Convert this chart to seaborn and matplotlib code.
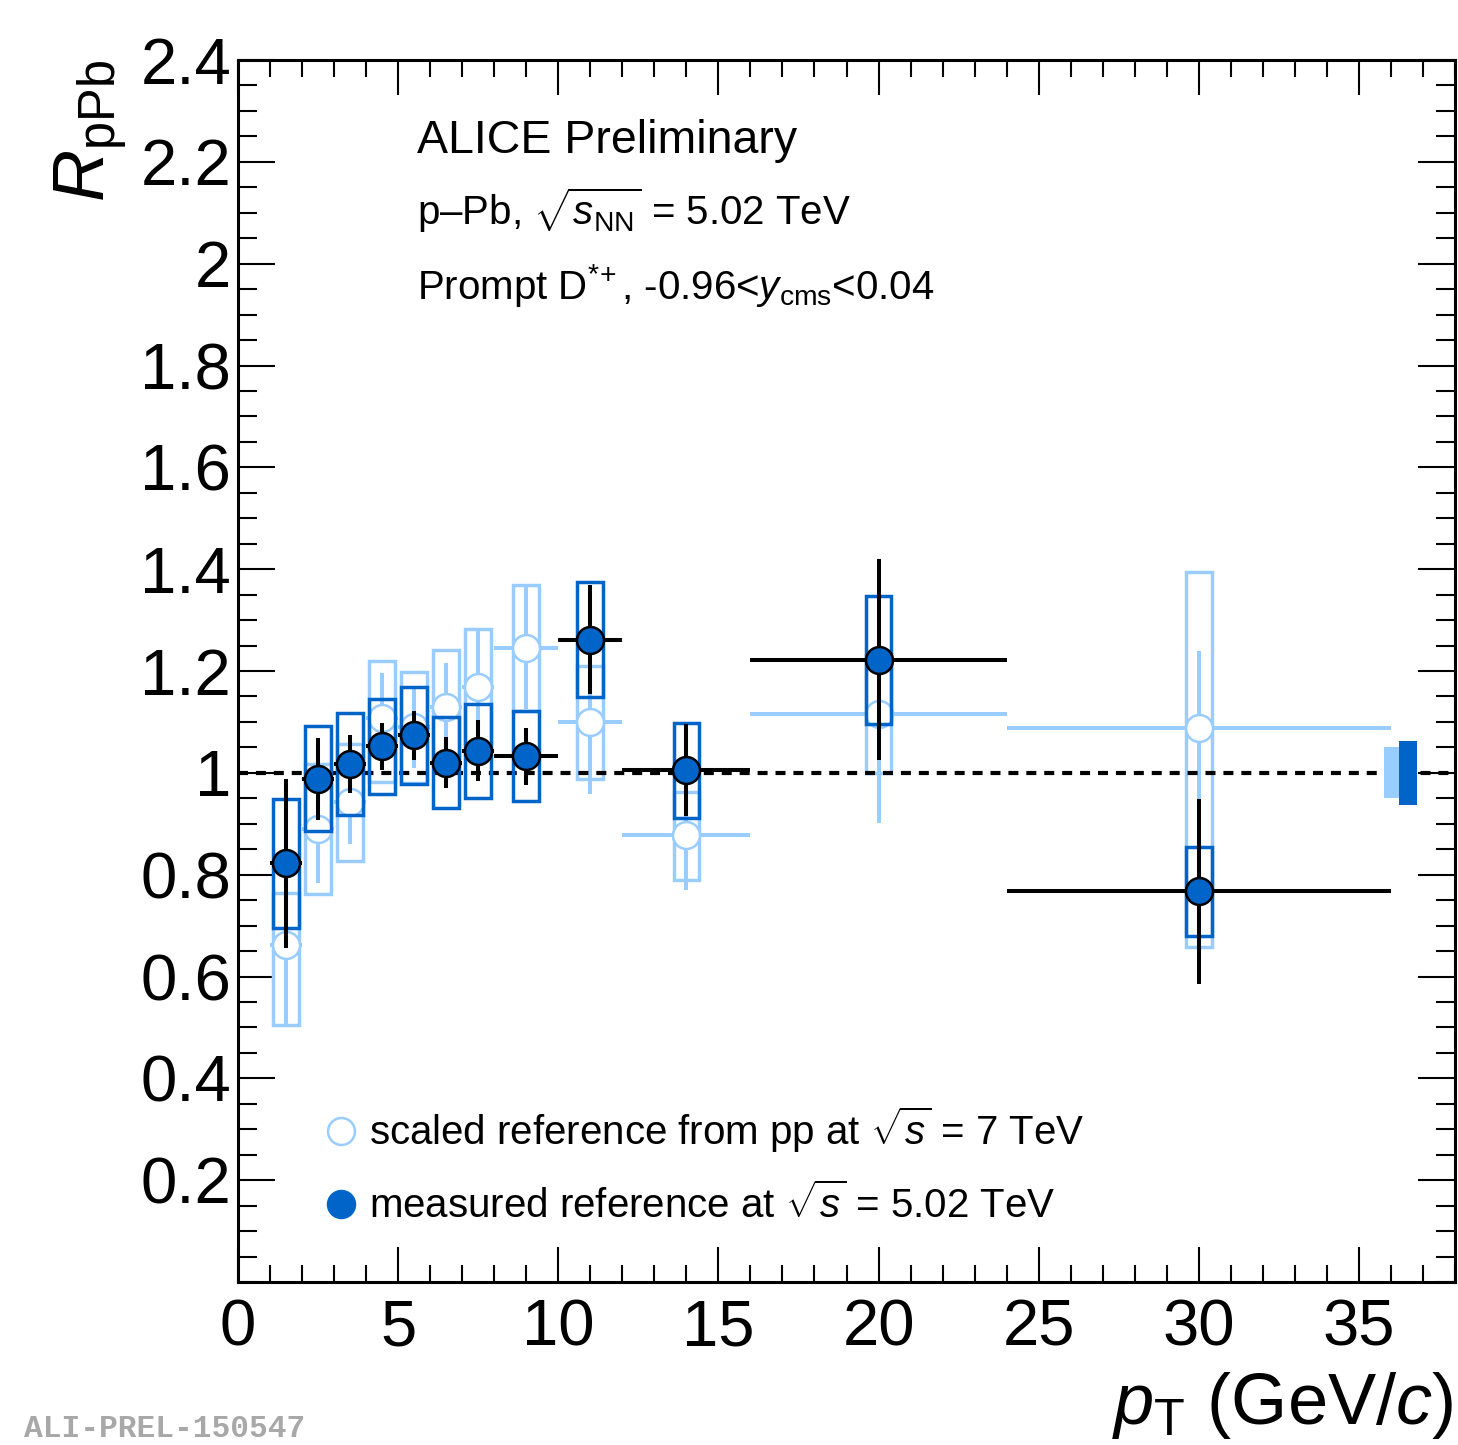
import numpy as np
import pandas as pd
import matplotlib
matplotlib.use("Agg")
import matplotlib.pyplot as plt
from matplotlib.patches import Rectangle
from matplotlib.ticker import MultipleLocator, FixedLocator, FuncFormatter
import seaborn as sns

# pT bins (GeV/c)
pt_center = [1.5, 2.5, 3.5, 4.5, 5.5, 6.5, 7.5, 9.0, 11.0, 14.0, 20.0, 30.0]
pt_halfwidth = [0.5, 0.5, 0.5, 0.5, 0.5, 0.5, 0.5, 1.0, 1.0, 2.0, 4.0, 6.0]

# R_pPb with measured pp reference at 5.02 TeV
r_meas = [0.822, 0.988, 1.017, 1.052, 1.074, 1.020, 1.043, 1.033, 1.261, 1.005, 1.222, 0.767]
stat_meas = [0.166, 0.080, 0.057, 0.046, 0.048, 0.050, 0.060, 0.056, 0.107, 0.090, 0.197, 0.181]
syst_meas = [0.127, 0.103, 0.100, 0.093, 0.095, 0.089, 0.092, 0.089, 0.113, 0.093, 0.126, 0.088]

# R_pPb with pp reference scaled from 7 TeV
r_scaled = [0.662, 0.890, 0.942, 1.108, 1.090, 1.130, 1.169, 1.245, 1.099, 0.877, 1.115, 1.088]
stat_scaled = [0.160, 0.107, 0.082, 0.089, 0.080, 0.086, 0.110, 0.120, 0.141, 0.108, 0.214, 0.151]
syst_scaled_lo = [0.158, 0.128, 0.115, 0.126, 0.110, 0.111, 0.113, 0.124, 0.111, 0.087, 0.116, 0.431]
syst_scaled_hi = [0.102, 0.128, 0.115, 0.112, 0.108, 0.111, 0.113, 0.124, 0.111, 0.086, 0.116, 0.307]

# global normalisation uncertainties
norm_unc_scaled = 0.050
norm_unc_meas = 0.063

y_ticks = [0.2, 0.4, 0.6, 0.8, 1.0, 1.2, 1.4, 1.6, 1.8, 2.0, 2.2, 2.4]
x_ticks = [0, 5, 10, 15, 20, 25, 30, 35]

DARK = "#0064C8"
LIGHT = "#99CCFF"

sns.set_theme(style="ticks")
plt.rcParams["font.family"] = ["Liberation Sans", "DejaVu Sans"]
plt.rcParams["mathtext.fontset"] = "custom"
plt.rcParams["mathtext.rm"] = "Liberation Sans"
plt.rcParams["mathtext.it"] = "Liberation Sans:italic"
plt.rcParams["mathtext.bf"] = "Liberation Sans:bold"
plt.rcParams["text.color"] = "black"
plt.rcParams["axes.labelcolor"] = "black"

df = pd.DataFrame({
    "pt": pt_center, "dpt": pt_halfwidth,
    "meas": r_meas, "stat_meas": stat_meas, "syst_meas": syst_meas,
    "scaled": r_scaled, "stat_scaled": stat_scaled,
    "syst_lo": syst_scaled_lo, "syst_hi": syst_scaled_hi,
})

fig = plt.figure(figsize=(14.58, 14.45), dpi=100)
ax = fig.add_axes([238 / 1458, 1 - 1282 / 1445, 1217 / 1458, 1222 / 1445])
ax.set_xlim(0, 38)
ax.set_ylim(0, 2.4)

box_hw = 0.4
lw_err = 2.9
lw_box = 2.5

# scaled reference: systematic boxes, stat errors, open markers
for _, r in df.iterrows():
    ax.add_patch(Rectangle((r.pt - box_hw, r.scaled - r.syst_lo), 2 * box_hw,
                           r.syst_lo + r.syst_hi, fill=False, edgecolor=LIGHT,
                           lw=lw_box, zorder=2))
ax.errorbar(df.pt, df.scaled, xerr=df.dpt, yerr=df.stat_scaled, fmt="none",
            ecolor=LIGHT, elinewidth=lw_err, capsize=0, zorder=3)
sns.scatterplot(data=df, x="pt", y="scaled", ax=ax, s=19.4 ** 2, marker="o",
                color="white", edgecolor=LIGHT, linewidth=1.8, zorder=4, legend=False)

# reference line at unity
ax.axhline(1.0, color="black", lw=3.0, dashes=(2.4, 1.9), zorder=4.5)

# measured reference: systematic boxes, stat errors, filled markers
for _, r in df.iterrows():
    ax.add_patch(Rectangle((r.pt - box_hw, r.meas - r.syst_meas), 2 * box_hw,
                           2 * r.syst_meas, fill=False, edgecolor=DARK,
                           lw=lw_box, zorder=5))
ax.errorbar(df.pt, df.meas, xerr=df.dpt, yerr=df.stat_meas, fmt="none",
            ecolor="black", elinewidth=lw_err, capsize=0, zorder=6)
sns.scatterplot(data=df, x="pt", y="meas", ax=ax, s=19.4 ** 2, marker="o",
                color=DARK, edgecolor="black", linewidth=1.8, zorder=7, legend=False)

# normalisation boxes at unity
ax.add_patch(Rectangle((35.77, 1 - norm_unc_scaled), 0.49, 2 * norm_unc_scaled,
                       facecolor=LIGHT, edgecolor="none", zorder=8))
ax.add_patch(Rectangle((36.26, 1 - norm_unc_meas), 0.55, 2 * norm_unc_meas,
                       facecolor=DARK, edgecolor="none", zorder=8))

# axes styling
for sp in ax.spines.values():
    sp.set_linewidth(2.2)
    sp.set_color("black")
    sp.set_visible(True)
ax.xaxis.set_major_locator(FixedLocator(x_ticks))
ax.xaxis.set_minor_locator(MultipleLocator(1))
ax.yaxis.set_major_locator(FixedLocator(y_ticks))
ax.yaxis.set_minor_locator(MultipleLocator(0.05))
ax.yaxis.set_major_formatter(FuncFormatter(lambda v, p: f"{v:g}"))
ax.tick_params(which="both", direction="in", top=True, right=True, color="black",
               width=1.5, labelsize=47, labelcolor="black")
ax.tick_params(axis="x", which="major", length=25, pad=12)
ax.tick_params(axis="x", which="minor", length=12.5)
ax.tick_params(axis="y", which="major", length=26.5, pad=5)
ax.tick_params(axis="y", which="minor", length=13.5)
ax.set_xlabel("")
ax.set_ylabel("")

# axis titles
fig.text(52 / 1458, 1 - 60 / 1445, r"$R_{\rm pPb}$", rotation=90, ha="left", va="top",
         fontsize=52)
fig.text(1453 / 1458, 1 - 1424 / 1445, r"$p_{\rm T}$ (GeV/$c$)", ha="right",
         va="baseline", fontsize=52)

# labels
fig.text(417 / 1458, 1 - 153 / 1445, "ALICE Preliminary", fontsize=33.5, va="baseline")
fig.text(417 / 1458, 1 - 225 / 1445, r"p–Pb, $\sqrt{s_{\rm NN}}$ = 5.02 TeV",
         fontsize=29, va="baseline")
fig.text(417 / 1458, 1 - 299 / 1445, r"Prompt D$^{*\!+}$, -0.96<$y_{\rm cms}$<0.04",
         fontsize=29, va="baseline")

# legend
leg_x = (341 - 238) / 1217
ax.plot([leg_x], [(1282 - 1131) / 1222], transform=ax.transAxes, marker="o",
        ms=19.4, mfc="white", mec=LIGHT, mew=1.8, ls="none", clip_on=False, zorder=9)
ax.plot([leg_x], [(1282 - 1204) / 1222], transform=ax.transAxes, marker="o",
        ms=19.4, mfc=DARK, mec=DARK, mew=1.8, ls="none", clip_on=False, zorder=9)
fig.text(369 / 1458, 1 - 1145 / 1445,
         r"scaled reference from pp at $\sqrt{s}$ = 7 TeV", fontsize=29, va="baseline")
fig.text(369 / 1458, 1 - 1218 / 1445,
         r"measured reference at $\sqrt{s}$ = 5.02 TeV", fontsize=29, va="baseline")

# preliminary figure id
fig.text(24 / 1458, 1 - 1437 / 1445, "ALI-PREL-150547", fontsize=22.5,
         family=["Liberation Mono", "DejaVu Sans Mono"], weight="bold",
         color="#a8a8a8", va="baseline", ha="left")

fig.savefig("out.png", dpi=100)
